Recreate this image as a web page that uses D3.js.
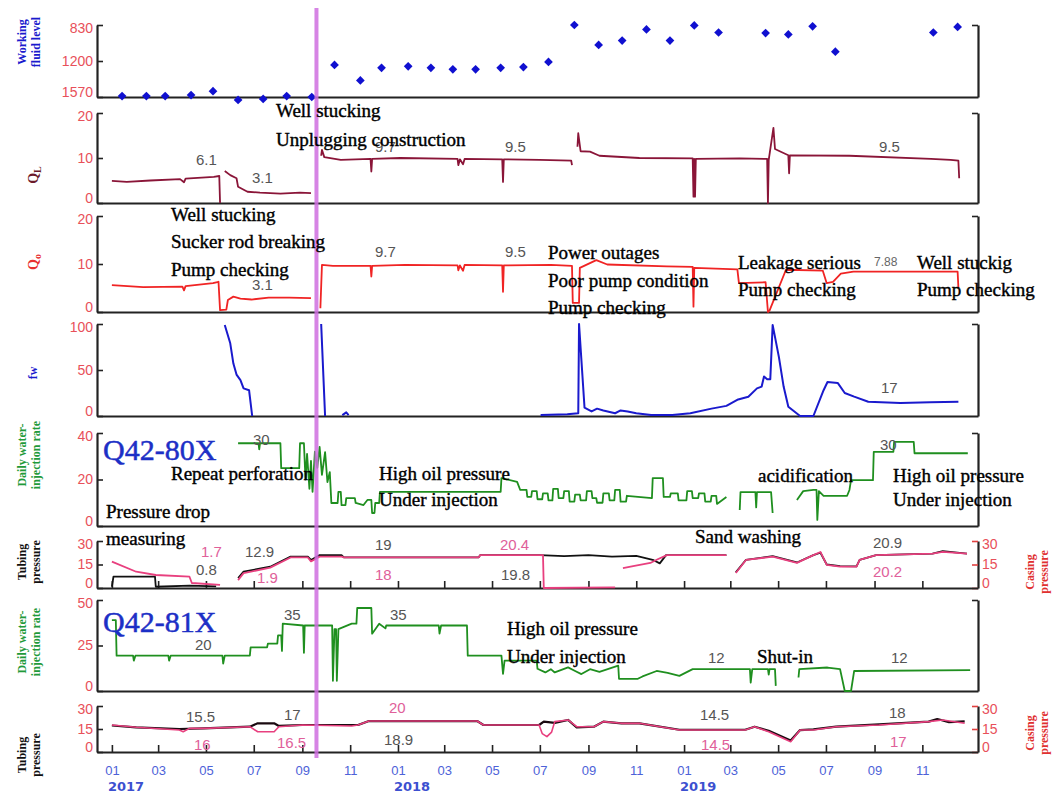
<!DOCTYPE html>
<html>
<head>
<meta charset="utf-8">
<script src="https://cdn.jsdelivr.net/npm/d3@7"></script>
<style>
  body { margin: 0; background: #fff; }
  svg { display: block; }
</style>
</head>
<body>
<svg id="chart" width="1058" height="796"></svg>
<script>
// tick labels
var fluidTicks = [830, 1200, 1570],
    rateTicks = [0, 10, 20],
    fwTicks = [0, 50, 100],
    inj80Ticks = [0, 20, 40],
    inj81Ticks = [0, 25, 50],
    pressTicks = [0, 15, 30];
var monthLabels = ["01", "03", "05", "07", "09", "11"],
    yearLabels = ["2017", "2018", "2019"];
var eventDate = "2017-09-19";

// working fluid level, monthly readings
var fluidLevel = [
  ["2017-01-14",1560],["2017-02-14",1560],["2017-03-10",1560],["2017-04-12",1550],["2017-05-10",1510],
  ["2017-06-11",1600],["2017-07-13",1590],["2017-08-12",1560],["2017-09-13",1570],["2017-10-12",1240],
  ["2017-11-14",1400],["2017-12-11",1270],["2018-01-14",1255],["2018-02-12",1270],["2018-03-12",1285],
  ["2018-04-10",1285],["2018-05-12",1270],["2018-06-10",1262],["2018-07-12",1210],["2018-08-14",830],
  ["2018-09-14",1035],["2018-10-14",990],["2018-11-14",875],["2018-12-14",990],["2019-01-14",834],
  ["2019-02-14",907],["2019-04-15",913],["2019-05-14",927],["2019-06-14",844],["2019-07-13",1104],
  ["2019-11-15",907],["2019-12-16",850]
];

// liquid rate QL
var liquidRate = [
  ["2017-01-01",4.9],["2017-01-20",4.7],["2017-02-19",5.0],["2017-03-29",5.3],["2017-04-03",4.6],["2017-04-05",5.4],
  ["2017-05-11",5.8],["2017-05-18",6.0],["2017-05-19",0],null,
  ["2017-05-25",7.1],["2017-06-01",6.2],["2017-06-09",5.5],["2017-06-11",3.6],["2017-06-23",2.5],["2017-07-09",2.3],
  ["2017-08-04",2.1],["2017-08-29",2.3],["2017-09-12",2.2],null,
  ["2017-09-25",10.5],["2017-09-26",11.8],["2017-09-29",10.2],["2017-10-20",9.6],["2017-11-27",9.8],["2017-11-28",7.0],
  ["2017-11-29",9.8],["2018-01-04",10.0],["2018-03-18",9.8],["2018-03-19",8.4],["2018-03-21",9.7],["2018-03-25",8.6],
  ["2018-03-27",9.8],["2018-05-14",9.7],["2018-05-15",4.7],["2018-05-16",9.7],["2018-07-01",9.6],["2018-08-10",9.4],
  ["2018-08-11",8.4],null,
  ["2018-08-18",12.5],["2018-08-19",15.5],["2018-08-22",11.5],["2018-09-03",11.4],["2018-09-15",10.5],["2018-11-05",10.0],
  ["2019-01-12",9.9],["2019-01-13",1.4],["2019-01-14",9.8],["2019-01-15",1.4],["2019-01-16",9.8],["2019-03-13",9.9],
  ["2019-04-17",9.8],["2019-04-18",0],["2019-04-19",9.6],["2019-04-25",16.7],["2019-04-27",12.0],["2019-05-03",11.5],
  ["2019-05-14",10.6],["2019-05-15",6.6],["2019-05-16",10.6],["2019-07-31",10.5],["2019-11-12",9.8],["2019-12-07",9.6],
  ["2019-12-17",9.4],["2019-12-18",5.5]
];

// oil rate Qo
var oilRate = [
  ["2017-01-01",5.6],["2017-02-10",5.2],["2017-04-01",5.3],["2017-04-03",4.5],["2017-04-05",5.4],["2017-05-10",6.0],
  ["2017-05-17",6.3],["2017-05-19",0.4],["2017-05-27",0.5],["2017-05-29",2.5],["2017-06-05",3.2],["2017-06-14",2.8],
  ["2017-06-28",2.6],["2017-07-20",3.0],["2017-08-15",3.0],["2017-09-12",2.9],null,
  ["2017-09-24",0.8],["2017-09-26",9.8],["2017-10-10",9.6],["2017-11-27",9.6],["2017-11-28",7.4],["2017-11-29",9.6],
  ["2018-01-10",9.8],["2018-03-18",9.7],["2018-03-19",8.7],["2018-03-21",9.7],["2018-03-25",8.6],["2018-03-27",9.8],
  ["2018-05-14",9.7],["2018-05-15",4.2],["2018-05-16",9.7],["2018-07-15",9.8],["2018-08-11",9.6],["2018-08-12",1.9],
  ["2018-08-20",1.9],["2018-08-21",9.2],["2018-09-11",10.8],["2018-09-25",9.9],["2018-12-10",9.5],["2019-01-12",9.4],
  ["2019-01-13",1.1],["2019-01-14",9.2],["2019-03-10",8.9],["2019-03-12",6.0],["2019-04-15",6.2],["2019-04-18",0],
  ["2019-04-20",0.3],["2019-05-11",8.8],["2019-06-27",8.6],["2019-07-02",6.0],["2019-07-10",6.3],["2019-07-20",8.0],
  ["2019-08-05",8.4],["2019-12-16",8.4],["2019-12-17",5.0]
];

// water cut fw
var waterCut = [
  ["2017-05-25",99],["2017-06-01",79],["2017-06-05",57],["2017-06-09",45],["2017-06-14",39],["2017-06-18",30],
  ["2017-06-25",28],["2017-06-29",0],null,
  ["2017-09-25",100],["2017-09-30",0],null,
  ["2017-10-22",1],["2017-10-27",4],["2017-10-30",1],null,
  ["2018-07-02",1],["2018-08-05",2],["2018-08-19",3],["2018-08-20",100],["2018-08-27",9],["2018-09-05",5],
  ["2018-09-12",8],["2018-09-20",6],["2018-10-05",3],["2018-10-12",6],["2018-10-21",5],["2018-11-01",3],
  ["2018-11-20",1],["2018-12-17",1],["2019-01-09",3],["2019-02-05",8],["2019-02-24",11],["2019-03-11",18],
  ["2019-03-24",21],["2019-04-04",30],["2019-04-10",32],["2019-04-13",43],["2019-04-17",40],["2019-04-21",40],
  ["2019-04-24",99],["2019-05-02",64],["2019-05-08",32],["2019-05-14",10],["2019-05-29",0],["2019-06-15",0],
  ["2019-06-28",28],["2019-07-03",37],["2019-07-16",36],["2019-07-25",25],["2019-08-06",21],["2019-08-24",15.5],
  ["2019-10-04",14],["2019-11-11",15],["2019-12-17",15.5]
];

// daily water injection, Q42-80X
var injection80 = [
  ["2017-06-11",35.6],["2017-07-07",35.6],["2017-07-08",33.0],["2017-07-09",35.6],["2017-08-04",35.6],["2017-08-05",24.9],
  ["2017-08-28",24.9],["2017-08-29",35.6],["2017-09-03",35.6],["2017-09-05",20],["2017-09-07",31],["2017-09-10",16],
  ["2017-09-12",28],["2017-09-14",14.7],["2017-09-17",32],["2017-09-20",25],["2017-09-23",34],["2017-09-26",22],
  ["2017-09-30",31.8],["2017-10-03",18.9],["2017-10-06",23.2],["2017-10-08",9.9],["2017-10-16",9.9],["2017-10-17",14.7],
  ["2017-10-20",14.7],["2017-10-21",9.0],["2017-10-26",9.0],["2017-10-27",12],["2017-11-07",12],["2017-11-08",9.9],
  ["2017-11-18",9.0],["2017-11-23",11.2],["2017-11-28",11.2],["2017-11-29",5.6],["2017-12-02",5.6],["2017-12-03",9.9],
  ["2017-12-08",9.9],["2017-12-09",14.7],["2018-05-12",14.7],["2018-05-13",20.6],["2018-06-02",19],["2018-06-06",15.5],
  ["2018-06-14",15.5],["2018-06-15",12.5],["2018-06-20",12.5],["2018-06-21",15],["2018-06-27",15],["2018-06-28",11.5],
  ["2018-07-04",11.5],["2018-07-05",14],["2018-07-11",14],["2018-07-12",11],["2018-07-17",11],["2018-07-18",16],
  ["2018-07-24",16],["2018-07-25",12],["2018-07-31",12],["2018-08-01",15],["2018-08-07",15],["2018-08-08",10.5],
  ["2018-08-14",10.5],["2018-08-15",13.5],["2018-08-21",13.5],["2018-08-22",11],["2018-08-29",11],["2018-08-30",15],
  ["2018-09-05",15],["2018-09-06",12],["2018-09-11",12],["2018-09-12",10],["2018-09-19",10],["2018-09-20",14],
  ["2018-09-27",14],["2018-09-28",11],["2018-10-04",11],["2018-10-05",15.5],["2018-10-11",15.5],["2018-10-12",10.5],
  ["2018-10-19",10.5],["2018-10-20",13],["2018-11-21",12],["2018-11-22",20.6],["2018-12-05",20.6],["2018-12-06",12.5],
  ["2018-12-14",12.5],["2018-12-15",14],["2018-12-24",14],["2018-12-25",11],["2019-01-04",11],["2019-01-05",15],
  ["2019-01-11",15],["2019-01-12",12],["2019-01-19",12],["2019-01-20",14],["2019-01-27",14],["2019-01-28",10.5],
  ["2019-02-04",10.5],["2019-02-05",13],["2019-02-11",13],["2019-02-12",9.5],["2019-02-24",12.5],null,
  ["2019-03-13",6.9],["2019-03-14",14.6],["2019-04-02",14.6],["2019-04-03",8],["2019-04-04",14.6],["2019-04-22",14.6],
  ["2019-04-24",5.6],null,
  ["2019-05-25",11.2],["2019-06-02",15],["2019-06-15",15.5],["2019-06-19",15.5],["2019-06-20",2.6],["2019-06-22",15],
  ["2019-06-28",13],["2019-07-28",13],["2019-07-31",15.5],["2019-08-02",19.7],["2019-08-30",19.7],["2019-08-31",31.9],
  ["2019-09-25",31.9],["2019-09-26",36.2],["2019-10-21",36.2],["2019-10-22",31.3],["2019-12-29",31.3]
];

// tubing / casing pressure, Q42-80X
var tubing80 = [
  ["2017-01-01",0.8],["2017-01-03",7.2],["2017-02-25",7.2],["2017-02-26",0.8],["2017-04-10",1.5],["2017-05-14",1.0],null,
  ["2017-06-11",6.4],["2017-06-18",10.4],["2017-07-22",13.6],["2017-08-17",20],["2017-09-08",20],["2017-09-12",17.9],
  ["2017-09-23",21],["2017-10-21",21],["2017-10-24",19.6],["2018-04-14",19.6],["2018-04-16",21],["2018-07-01",21],
  ["2018-08-01",20.3],["2018-09-01",21],["2018-10-01",20],["2018-11-01",20.5],["2018-11-22",18],["2018-12-01",15.7],
  ["2018-12-09",21],["2019-02-24",21],null,
  ["2019-03-08",10],["2019-03-21",18],["2019-04-24",20.3],["2019-05-25",16.3],["2019-06-15",21],["2019-06-24",22.5],
  ["2019-07-02",15],["2019-07-19",14],["2019-08-09",13.8],["2019-08-13",18],["2019-09-03",21],["2019-11-14",22],
  ["2019-11-27",23.5],["2019-12-28",22]
];
var casing80 = [
  ["2017-01-01",16.8],["2017-02-01",10.4],["2017-02-26",8.3],["2017-04-10",7.2],["2017-04-13",3.2],["2017-05-19",2.0],null,
  ["2017-06-11",5],["2017-06-18",9.5],["2017-07-22",13],["2017-08-17",19.5],["2017-09-08",19.5],["2017-09-12",17],
  ["2017-09-23",20],["2017-10-21",20],["2017-10-24",19.6],["2018-04-14",19.6],["2018-04-16",21],["2018-07-05",21],
  ["2018-07-06",0],["2018-10-05",0.4],null,
  ["2018-10-15",12.7],["2018-10-28",14],["2018-11-19",16],["2018-11-27",18],["2018-12-10",21],["2019-02-24",21],null,
  ["2019-03-08",9.6],["2019-03-21",17.9],["2019-04-24",20],["2019-05-25",16],["2019-06-15",21],["2019-06-24",23],
  ["2019-07-02",14.7],["2019-07-19",13.6],["2019-08-09",13.6],["2019-08-13",17.9],["2019-09-03",21],["2019-11-14",22],
  ["2019-11-27",23],["2019-12-28",22]
];

// daily water injection, Q42-81X
var injection81 = [
  ["2017-01-01",38.9],["2017-01-06",38.9],["2017-01-07",19.4],["2017-01-28",19.4],["2017-01-29",16.7],["2017-01-31",19.4],
  ["2017-03-14",19.4],["2017-03-15",16.7],["2017-03-17",19.4],["2017-05-22",19.4],["2017-05-23",15],["2017-05-25",19.4],
  ["2017-06-26",19.4],["2017-06-27",24],["2017-07-18",24],["2017-07-19",26],["2017-07-31",26],["2017-08-01",30.6],
  ["2017-08-05",30.6],["2017-08-06",22],["2017-08-07",37],["2017-09-02",36],["2017-09-03",21],["2017-09-04",36],
  ["2017-10-09",36],["2017-10-10",5.6],["2017-10-12",34],["2017-10-14",34],["2017-10-15",5.6],["2017-10-17",34],
  ["2017-11-03",37],["2017-11-09",37],["2017-11-10",45.6],["2017-11-28",45.6],["2017-11-29",31.5],["2017-12-08",37],
  ["2017-12-16",34.4],["2017-12-17",36],["2018-02-22",36],["2018-02-23",31.5],["2018-02-25",36],["2018-03-30",36],
  ["2018-03-31",19.4],["2018-05-13",19.4],["2018-05-15",9.4],["2018-05-17",16.7],["2018-06-27",16.7],["2018-06-28",12.2],
  ["2018-07-08",10.2],["2018-07-15",12],["2018-07-20",10.2],["2018-08-06",13],["2018-08-15",11],["2018-08-23",9.3],
  ["2018-09-03",12],["2018-09-15",10.5],["2018-10-09",13.9],["2018-10-10",6.7],["2018-11-03",6.7],["2018-11-09",8],
  ["2018-11-27",11],["2018-12-11",10],["2018-12-26",8.3],["2019-01-12",12],["2019-03-26",12],["2019-03-27",4.6],
  ["2019-03-29",12],["2019-04-18",12],["2019-04-19",9],["2019-04-20",12],["2019-04-27",12],["2019-04-28",2.8],null,
  ["2019-05-27",7.4],["2019-05-28",12],["2019-07-03",12.9],["2019-07-19",12],["2019-07-25",0],["2019-08-02",0],
  ["2019-08-06",11],["2020-01-01",11.5]
];

// tubing / casing pressure, Q42-81X
var tubing81 = [
  ["2017-01-01",17.3],["2017-02-01",16],["2017-03-28",15],["2017-04-28",15.4],["2017-06-26",16.5],["2017-07-06",18.7],
  ["2017-07-27",18.7],["2017-08-02",17],["2017-09-01",17.6],["2017-11-11",17.6],["2017-11-25",20.2],["2018-04-12",20.2],
  ["2018-04-20",17.6],["2018-06-30",17.6],["2018-07-06",19.8],["2018-07-20",19],["2018-08-06",20.9],["2018-08-17",16],
  ["2018-09-08",16.5],["2018-09-20",19.8],["2018-10-13",18.7],["2018-11-05",18.7],["2018-12-26",14.5],["2019-03-20",14.5],
  ["2019-04-01",16.5],["2019-04-19",13.8],["2019-05-17",7.5],["2019-05-29",14.3],["2019-06-15",14.8],["2019-07-14",16.5],
  ["2019-09-07",18],["2019-11-09",19.8],["2019-11-20",21.5],["2019-12-05",19.5],["2019-12-25",20]
];
var casing81 = [
  ["2017-01-01",17.6],["2017-02-01",16.1],["2017-03-28",14.3],["2017-04-02",13.2],["2017-04-10",15.4],["2017-04-28",15.4],
  ["2017-06-26",16.5],["2017-07-06",13.2],["2017-07-27",13.2],["2017-08-02",16.5],["2017-09-01",17.6],["2017-11-03",17],
  ["2017-11-11",17.6],["2017-11-25",20.2],["2018-04-12",20.2],["2018-04-20",17.6],["2018-06-30",17.6],["2018-07-04",12],
  ["2018-07-10",10],["2018-07-16",13],["2018-07-20",19.8],["2018-08-06",20.9],["2018-08-17",16.5],["2018-09-08",16.5],
  ["2018-09-20",19.8],["2018-10-13",18.7],["2018-11-05",18.7],["2018-12-26",14.3],["2019-03-20",14.3],["2019-04-01",16.5],
  ["2019-04-19",13.2],["2019-05-17",6.7],["2019-05-29",14.3],["2019-06-15",14.3],["2019-07-14",16.5],["2019-09-07",17.6],
  ["2019-11-09",19.8],["2019-11-27",20.9],["2019-12-25",18.7]
];

var parseDate = d3.timeParse("%Y-%m-%d");
var svg = d3.select("#chart");
var left = 97, right = 978;

var x = d3.scaleTime()
    .domain([parseDate("2016-12-13"), parseDate("2020-01-11")])
    .range([left, right]);

var tickDates = [];
yearLabels.forEach(function(yr) {
    monthLabels.forEach(function(m) { tickDates.push(parseDate(yr + "-" + m + "-01")); });
});

var panels = {
    fluid: {top: 25, bottom: 97, domain: [1570, 830], ticks: fluidTicks},
    ql:    {top: 113, bottom: 203, domain: [0, 20], ticks: rateTicks},
    qo:    {top: 216, bottom: 312, domain: [0, 20], ticks: rateTicks},
    fw:    {top: 324, bottom: 416, domain: [0, 100], ticks: fwTicks},
    inj80: {top: 433, bottom: 526, domain: [0, 40], ticks: inj80Ticks},
    p80:   {top: 541, bottom: 588, domain: [0, 30], ticks: pressTicks, rightTicks: true, xTicks: true},
    inj81: {top: 600, bottom: 691, domain: [0, 50], ticks: inj81Ticks},
    p81:   {top: 706, bottom: 752, domain: [0, 30], ticks: pressTicks, rightTicks: true, xTicks: true, xLabels: true}
};

const tickRed = "#e8505a";
var plain = d3.format("d");

function styleAxis(g, color, size) {
    g.attr("font-family", "'Liberation Sans', Arial, sans-serif").attr("font-size", size);
    g.select(".domain").attr("stroke", "#222").attr("stroke-width", 2.2);
    g.selectAll(".tick line").attr("stroke", "#222").attr("stroke-width", 1.6);
    g.selectAll(".tick text").attr("fill", color);
}

// lift the bottom label and drop the top one a little so stacked panels don't collide
function nudgeEnds(g, p) {
    g.selectAll(".tick text").attr("dy", function(d) {
        if (d === p.domain[0]) return "-0.05em";
        if (d === p.domain[1]) return "0.5em";
        return "0.32em";
    });
}

Object.keys(panels).forEach(function(key) {
    var p = panels[key];
    p.y = d3.scaleLinear().domain(p.domain).range([p.bottom, p.top]);

    var gl = svg.append("g").attr("transform", "translate(" + left + ",0)")
        .call(d3.axisLeft(p.y).tickValues(p.ticks).tickFormat(plain)
            .tickSizeInner(-6).tickSizeOuter(0).tickPadding(4));
    styleAxis(gl, tickRed, 14);
    nudgeEnds(gl, p);

    var gr = svg.append("g").attr("transform", "translate(" + right + ",0)")
        .call(d3.axisRight(p.y).tickValues(p.rightTicks ? p.ticks : [p.domain[1]])
            .tickSizeInner(-6).tickSizeOuter(0).tickPadding(4)
            .tickFormat(p.rightTicks ? plain : ""));
    styleAxis(gr, tickRed, 14);
    if (p.rightTicks) {
        gr.selectAll(".tick line").attr("stroke", "#e04040");
        nudgeEnds(gr, p);
    }

    var gb = svg.append("g").attr("transform", "translate(0," + p.bottom + ")")
        .call(d3.axisBottom(x).tickValues(p.xTicks ? tickDates : [])
            .tickSizeInner(-7).tickSizeOuter(0).tickPadding(14)
            .tickFormat(p.xLabels ? d3.timeFormat("%m") : ""));
    styleAxis(gb, "#4d62d8", 13);
});

// year labels under the month ticks
svg.selectAll(".year")
    .data(yearLabels)
    .enter().append("text")
    .attr("x", function(d) { return x(parseDate(d + "-01-01")) - 4; })
    .attr("y", 791)
    .attr("font-family", "'DejaVu Sans', sans-serif")
    .attr("font-weight", "bold")
    .attr("font-size", 13)
    .attr("fill", "#3c50d0")
    .text(function(d) { return d; });

function drawLine(data, panel, color, width) {
    var line = d3.line()
        .defined(function(d) { return d !== null; })
        .x(function(d) { return x(parseDate(d[0])); })
        .y(function(d) { return panel.y(d[1]); });
    svg.append("path")
        .datum(data)
        .attr("fill", "none")
        .attr("stroke", color)
        .attr("stroke-width", width)
        .attr("stroke-linejoin", "round")
        .attr("d", line);
}

drawLine(liquidRate, panels.ql, "#8a1538", 1.8);
drawLine(oilRate, panels.qo, "#f02424", 1.8);
drawLine(waterCut, panels.fw, "#1a1acd", 2);
drawLine(injection80, panels.inj80, "#1f8f1f", 1.8);
drawLine(tubing80, panels.p80, "#111111", 1.8);
drawLine(casing80, panels.p80, "#e8407f", 1.8);
drawLine(injection81, panels.inj81, "#1f8f1f", 1.8);
drawLine(tubing81, panels.p81, "#1a0a10", 2.2);
drawLine(casing81, panels.p81, "#e8407f", 1.6);

svg.selectAll(".fluid")
    .data(fluidLevel)
    .enter().append("path")
    .attr("d", d3.symbol().type(d3.symbolSquare).size(38))
    .attr("transform", function(d) {
        return "translate(" + x(parseDate(d[0])) + "," + panels.fluid.y(d[1]) + ") rotate(45)";
    })
    .attr("fill", "#1010d0");

// event marker
svg.append("line")
    .attr("x1", x(parseDate(eventDate))).attr("x2", x(parseDate(eventDate)))
    .attr("y1", 8).attr("y2", 758)
    .attr("stroke", "#cf6fe0")
    .attr("stroke-width", 4)
    .attr("opacity", 0.85);

// axis titles
var titles = [
    {lines: ["Working", "fluid level"], x: 26, y: 42, color: "#1a1acd"},
    {lines: ["Q|L"], x: 38, y: 175, color: "#6b1a2a", size: 14},
    {lines: ["Q|o"], x: 38, y: 262, color: "#e83030", size: 14},
    {lines: ["fw"], x: 37, y: 373, color: "#1a1acd"},
    {lines: ["Daily water-", "injection rate"], x: 26, y: 455, color: "#1f9a3a"},
    {lines: ["Tubing", "pressure"], x: 26, y: 562, color: "#111"},
    {lines: ["Daily water-", "injection rate"], x: 26, y: 642, color: "#1f9a3a"},
    {lines: ["Tubing", "pressure"], x: 26, y: 755, color: "#111"},
    {lines: ["Casing", "pressure"], x: 1034, y: 572, color: "#e03030"},
    {lines: ["Casing", "pressure"], x: 1034, y: 733, color: "#e03030"}
];

titles.forEach(function(t) {
    var txt = svg.append("text")
        .attr("transform", "translate(" + t.x + "," + t.y + ") rotate(-90)")
        .attr("text-anchor", "middle")
        .attr("font-family", "'Liberation Serif', 'Times New Roman', serif")
        .attr("font-weight", "bold")
        .attr("font-size", t.size || 12)
        .attr("fill", t.color);
    t.lines.forEach(function(l, i) {
        var parts = l.split("|");
        txt.append("tspan").attr("x", 0).attr("dy", i === 0 ? 0 : "1.2em").text(parts[0]);
        if (parts[1]) {
            txt.append("tspan").attr("dy", "0.3em").attr("font-size", 10).text(parts[1]);
        }
    });
});

// annotations
var notes = [
    ["9.7", 375, 152, "val"],
    ["Well stucking", 276, 117, "note"],
    ["Unplugging construction", 276, 146, "note"],
    ["6.1", 196, 165, "val"],
    ["3.1", 252, 183, "val"],
    ["9.5", 505, 152, "val"],
    ["9.5", 879, 152, "val"],
    ["Well stucking", 171, 221, "note"],
    ["Sucker rod breaking", 171, 248, "note"],
    ["Pump checking", 171, 276, "note"],
    ["3.1", 252, 290, "val"],
    ["9.7", 375, 257, "val"],
    ["9.5", 505, 257, "val"],
    ["Power outages", 548, 259, "note"],
    ["Poor pump condition", 548, 287, "note"],
    ["Pump checking", 548, 314, "note"],
    ["Leakage serious", 738, 269, "note"],
    ["Pump checking", 738, 296, "note"],
    ["7.88", 874, 266, "small"],
    ["Well stuckig", 917, 269, "note"],
    ["Pump checking", 917, 296, "note"],
    ["17", 881, 393, "val"],
    ["Q42-80X", 103, 460, "well"],
    ["30", 253, 445, "val"],
    ["Repeat perforation", 171, 480, "note"],
    ["High oil pressure", 379, 480, "note"],
    ["Under injection", 379, 506, "note"],
    ["acidification", 758, 482, "note"],
    ["30", 880, 450, "val"],
    ["High oil pressure", 893, 482, "note"],
    ["Under injection", 893, 506, "note"],
    ["Pressure drop", 106, 518, "note"],
    ["measuring", 106, 545, "note"],
    ["1.7", 201, 557, "cas"],
    ["0.8", 196, 575, "val"],
    ["12.9", 245, 557, "val"],
    ["1.9", 257, 583, "cas"],
    ["19", 375, 550, "val"],
    ["18", 375, 580, "cas"],
    ["20.4", 500, 550, "cas"],
    ["19.8", 501, 580, "val"],
    ["Sand washing", 695, 543, "note"],
    ["20.9", 873, 548, "val"],
    ["20.2", 873, 577, "cas"],
    ["Q42-81X", 103, 632, "well"],
    ["20", 195, 650, "val"],
    ["35", 284, 620, "val"],
    ["35", 390, 620, "val"],
    ["High oil pressure", 507, 635, "note"],
    ["Under injection", 507, 663, "note"],
    ["12", 708, 663, "val"],
    ["Shut-in", 757, 663, "note"],
    ["12", 891, 663, "val"],
    ["15.5", 186, 722, "val"],
    ["17", 284, 720, "val"],
    ["20", 389, 713, "cas"],
    ["16", 194, 750, "cas"],
    ["16.5", 277, 748, "cas"],
    ["18.9", 384, 745, "val"],
    ["14.5", 700, 720, "val"],
    ["14.5", 701, 750, "cas"],
    ["18", 889, 718, "val"],
    ["17", 890, 747, "cas"]
];

var noteStyles = {
    note:  {font: "'Liberation Serif', 'Times New Roman', serif", size: 19, color: "#000000", stroke: 0.4},
    val:   {font: "'Liberation Sans', Arial, sans-serif", size: 15, color: "#555555", stroke: 0},
    small: {font: "'Liberation Sans', Arial, sans-serif", size: 12, color: "#666666", stroke: 0},
    cas:   {font: "'Liberation Sans', Arial, sans-serif", size: 15, color: "#e0609a", stroke: 0},
    well:  {font: "'Liberation Serif', 'Times New Roman', serif", size: 30, color: "#1c2fc6", stroke: 0.5}
};

svg.selectAll(".note")
    .data(notes)
    .enter().append("text")
    .attr("x", function(d) { return d[1]; })
    .attr("y", function(d) { return d[2]; })
    .attr("font-family", function(d) { return noteStyles[d[3]].font; })
    .attr("font-size", function(d) { return noteStyles[d[3]].size; })
    .attr("fill", function(d) { return noteStyles[d[3]].color; })
    .attr("stroke", function(d) { return noteStyles[d[3]].stroke ? noteStyles[d[3]].color : "none"; })
    .attr("stroke-width", function(d) { return noteStyles[d[3]].stroke; })
    .text(function(d) { return d[0]; });
</script>
</body>
</html>
